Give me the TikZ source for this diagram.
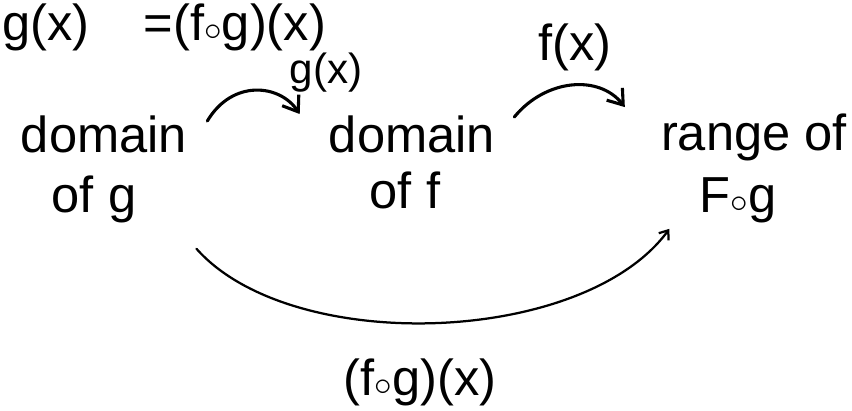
\documentclass[tikz,border=0pt]{standalone}
\usepackage{fontspec}
\setmainfont{Liberation Sans}
\usetikzlibrary{arrows.meta}
\newcommand{\comp}{\ensuremath{\circ}}
\begin{document}
\begin{tikzpicture}[x=0.025cm, y=-0.025cm,
    every node/.style={inner sep=0pt, anchor=base, font=\fontsize{36}{40}\selectfont},
    maparrow/.style={line width=2.2pt, line cap=round, -{Straight Barb[length=3.5mm,width=5mm]}},
    longarrow/.style={line width=1.6pt, line cap=round, -{Straight Barb[length=2mm,width=3mm]}}]
            \useasboundingbox (0,0) rectangle (852,410);
            % top line
            \node (gtop) at (46,40) {g(x)};
            \node (eqtop) at (235,40) {=(f\comp g)(x)};
            % the three sets
            \node (domg) at (104,152) {domain};
            \node (ofg) at (94,212) {of g};
            \node (domf) at (412,152) {domain};
            \node (off) at (405,208) {of f};
            \node (rng) at (754,150) {range of};
            \node (fog) at (738,212) {F\comp g};
            % map labels
            \node[font=\fontsize{30}{34}\selectfont] (glab) at (326,83) {g(x)};
            \node (flab) at (575,60) {f(x)};
            \node (fogx) at (420,395) {(f\comp g)(x)};
            \draw[maparrow] ([shift={(20,6)}]domg.north east) .. controls +(25,-42) and +(-20,-30) .. ([shift={(-29,-1)}]domf.north west);
            \draw[maparrow] ([shift={(19,2)}]domf.north east) .. controls +(31,-38) and +(-26,-33) .. ([shift={(-36,-6)}]rng.north west);
            \draw[longarrow] ([shift={(60,26)}]ofg.south east) .. controls +(95,107) and +(-86,117) .. ([shift={(-30,6)}]fog.south west);
        \end{tikzpicture}
\end{document}
